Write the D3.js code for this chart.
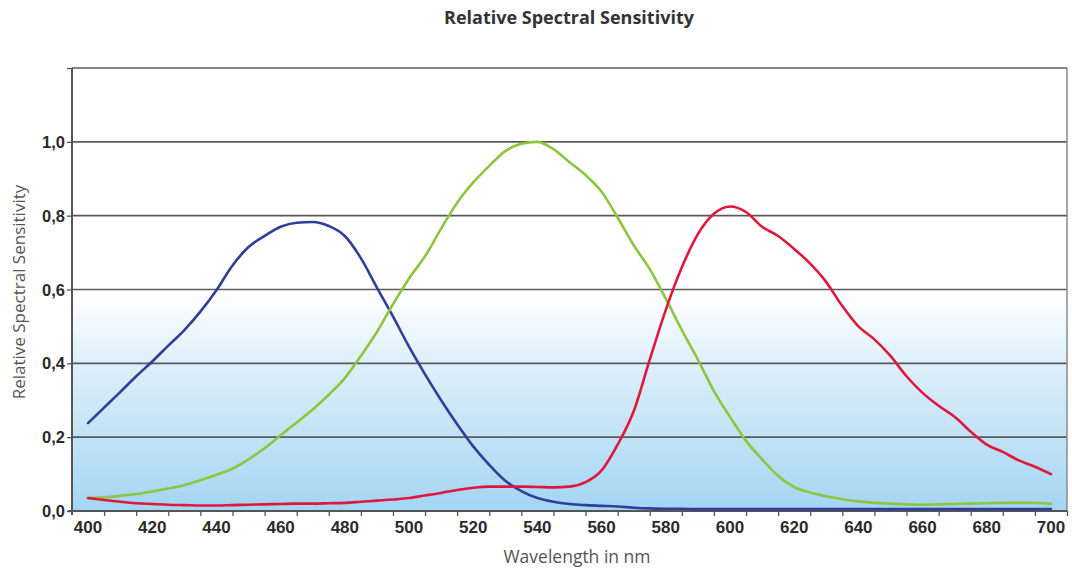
<!DOCTYPE html>
<html>
<head>
<meta charset="utf-8">
<script src="https://cdn.jsdelivr.net/npm/d3@7"></script>
<style>
  html, body { margin: 0; padding: 0; background: #fff; }
  svg { display: block; }
</style>
</head>
<body>
<svg id="chart" width="1072" height="573"></svg>
<script>
// ---- data ----
const wavelengths = [400,405,410,415,420,425,430,435,440,445,450,455,460,465,470,475,480,485,490,495,
  500,505,510,515,520,525,530,535,540,545,550,555,560,565,570,575,580,585,590,595,
  600,605,610,615,620,625,630,635,640,645,650,655,660,665,670,675,680,685,690,695,700];

const blueValues = [0.238,0.280,0.322,0.365,0.405,0.448,0.490,0.540,0.598,0.665,0.715,0.745,0.770,0.781,0.783,0.772,0.745,0.685,0.605,0.527,
  0.445,0.370,0.300,0.235,0.175,0.125,0.082,0.054,0.035,0.025,0.019,0.016,0.014,0.012,0.009,0.007,0.006,0.006,0.005,0.005,
  0.005,0.005,0.005,0.005,0.005,0.005,0.005,0.005,0.005,0.005,0.005,0.005,0.005,0.005,0.005,0.005,0.005,0.005,0.005,0.005,0.005];

const greenValues = [0.035,0.037,0.041,0.046,0.053,0.061,0.070,0.083,0.098,0.115,0.140,0.170,0.205,0.240,0.275,0.315,0.360,0.420,0.485,0.560,
  0.630,0.690,0.765,0.835,0.890,0.935,0.975,0.995,1.000,0.980,0.945,0.910,0.865,0.795,0.720,0.655,0.575,0.490,0.410,0.325,
  0.255,0.190,0.140,0.095,0.065,0.050,0.040,0.032,0.026,0.022,0.020,0.018,0.017,0.018,0.019,0.020,0.021,0.022,0.022,0.022,0.020];

const redValues = [0.035,0.030,0.025,0.021,0.019,0.017,0.016,0.015,0.015,0.016,0.017,0.018,0.019,0.020,0.020,0.021,0.022,0.025,0.028,0.031,
  0.035,0.042,0.049,0.057,0.063,0.066,0.066,0.066,0.065,0.064,0.066,0.078,0.110,0.180,0.270,0.410,0.545,0.660,0.750,0.805,
  0.825,0.810,0.770,0.745,0.710,0.670,0.620,0.555,0.500,0.465,0.420,0.365,0.320,0.285,0.255,0.215,0.180,0.160,0.137,0.120,0.100];

const xTickLabels = [400,420,440,460,480,500,520,540,560,580,600,620,640,660,680,700];
const xTickMarks = [405,415,425,435,445,455,465,475,485,495,505,515,525,535,545,555,565,575,585,595,
  605,615,625,635,645,655,665,675,685,695,705];
const yTicks = [0, 0.2, 0.4, 0.6, 0.8, 1.0, 1.2];
const yTickLabels = ["0,0","0,2","0,4","0,6","0,8","1,0",""];

const titleText = "Relative Spectral Sensitivity";
const xTitle = "Wavelength in nm";
const yTitle = "Relative Spectral Sensitivity";

// ---- layout ----
const L = 72, R = 1067, T = 68, B = 511;
const svg = d3.select("#chart");

const x = d3.scaleLinear().domain([395, 705]).range([L, R]);
const y = d3.scaleLinear().domain([0, 1.2]).range([B, T]);

// background gradient
const defs = svg.append("defs");
const grad = defs.append("linearGradient").attr("id", "bg")
  .attr("x1", 0).attr("y1", 0).attr("x2", 0).attr("y2", 1);
grad.append("stop").attr("offset", "0%").attr("stop-color", "#ffffff");
grad.append("stop").attr("offset", "51%").attr("stop-color", "#ffffff");
grad.append("stop").attr("offset", "66%").attr("stop-color", "#dff0fa");
grad.append("stop").attr("offset", "83%").attr("stop-color", "#c2e3f6");
grad.append("stop").attr("offset", "100%").attr("stop-color", "#a3d5f3");

svg.append("rect").attr("x", L).attr("y", T).attr("width", R - L).attr("height", B - T)
  .attr("fill", "url(#bg)");

// gridlines
svg.append("g").selectAll("line").data(yTicks.filter(d => d > 0)).join("line")
  .attr("x1", L).attr("x2", R)
  .attr("y1", d => y(d)).attr("y2", d => y(d))
  .attr("stroke", "#5a5a5a").attr("stroke-width", 1.6);

// right border
svg.append("line").attr("x1", R).attr("x2", R).attr("y1", T).attr("y2", B)
  .attr("stroke", "#8a8a8a").attr("stroke-width", 1.5);

// x axis
const xAxis = d3.axisBottom(x).tickValues(xTickMarks).tickSize(5).tickFormat("");
const gx = svg.append("g").attr("transform", `translate(0,${B})`).call(xAxis);
gx.select(".domain").remove();
gx.selectAll(".tick line").attr("stroke", "#555").attr("stroke-width", 1.3);
svg.append("line").attr("x1", L - 4).attr("x2", R).attr("y1", B).attr("y2", B)
  .attr("stroke", "#555").attr("stroke-width", 2);

svg.append("g").selectAll("text").data(xTickLabels).join("text")
  .attr("x", d => x(d)).attr("y", 533)
  .attr("text-anchor", "middle")
  .attr("font-family", "'Liberation Sans Narrow', 'Arial Narrow', sans-serif")
  .attr("font-weight", "bold").attr("font-size", 17)
  .attr("fill", "#2b2b2b")
  .text(d => d);

// y axis
const yAxis = d3.axisLeft(y).tickValues(yTicks).tickSize(5).tickFormat("");
const gy = svg.append("g").attr("transform", `translate(${L},0)`).call(yAxis);
gy.select(".domain").remove();
gy.selectAll(".tick line").attr("stroke", "#555").attr("stroke-width", 1.3);
svg.append("line").attr("x1", L).attr("x2", L).attr("y1", T).attr("y2", B + 4)
  .attr("stroke", "#555").attr("stroke-width", 2);

svg.append("g").selectAll("text").data(yTicks).join("text")
  .attr("x", 65).attr("y", d => y(d) + 6)
  .attr("text-anchor", "end")
  .attr("font-family", "'Liberation Sans Narrow', 'Arial Narrow', sans-serif")
  .attr("font-weight", "bold").attr("font-size", 16.5)
  .attr("fill", "#2b2b2b")
  .text((d, i) => yTickLabels[i]);

// lines
const line = d3.line().x((d, i) => x(wavelengths[i])).y(d => y(d)).curve(d3.curveMonotoneX);
const series = [
  { values: blueValues, color: "#2f3f99" },
  { values: greenValues, color: "#8cc63e" },
  { values: redValues, color: "#e0173d" }
];
svg.append("g").selectAll("path").data(series).join("path")
  .attr("d", d => line(d.values))
  .attr("fill", "none")
  .attr("stroke", d => d.color)
  .attr("stroke-width", 2.6)
  .attr("stroke-linejoin", "round")
  .attr("stroke-linecap", "round");

// titles
svg.append("text").attr("x", 569).attr("y", 24).attr("text-anchor", "middle")
  .attr("font-family", "'Open Sans', sans-serif").attr("font-weight", "bold")
  .attr("font-size", 18).attr("fill", "#333").text(titleText);

svg.append("text").attr("x", 577).attr("y", 563).attr("text-anchor", "middle")
  .attr("font-family", "'Open Sans', sans-serif")
  .attr("font-size", 17.5).attr("fill", "#555").text(xTitle);

svg.append("text").attr("transform", "translate(25,292) rotate(-90)").attr("text-anchor", "middle")
  .attr("font-family", "'Open Sans', sans-serif")
  .attr("font-size", 17).attr("fill", "#555").text(yTitle);
</script>
</body>
</html>
